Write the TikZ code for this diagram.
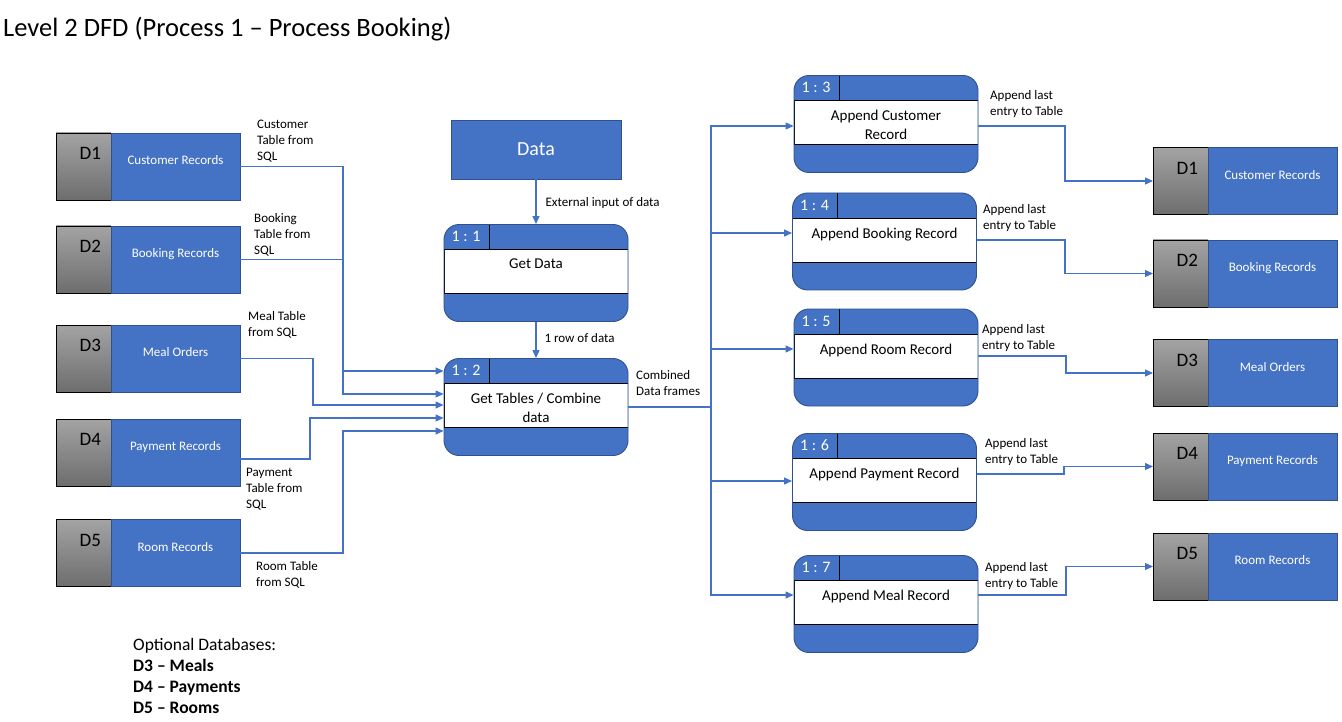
\documentclass[tikz,border=0pt]{standalone}
\usepackage{fontspec}
\setmainfont{Carlito}
\usetikzlibrary{positioning, arrows.meta}
\definecolor{dfdblue}{HTML}{4472C4}
\definecolor{dfdedge}{HTML}{2F528F}
\tikzset{
conn/.style={draw=dfdblue, line width=1.1pt, -{Triangle[length=8pt,width=7pt]}}, % data flow with arrow
flow/.style={draw=dfdblue, line width=1.1pt}, % data flow without arrow
flowlabel/.style={font=\fontsize{13}{16}\selectfont, align=left, inner sep=0pt, anchor=west},
storeid/.style={draw=black, top color=black!36, bottom color=black!57, outer sep=0pt,
  minimum width=55pt, minimum height=67pt, text width=35pt, align=right, inner xsep=10pt,
  inner ysep=0pt, text height=12.5pt, text depth=26pt, font=\fontsize{19}{19}\selectfont},
storename/.style={draw=dfdedge, fill=dfdblue, text=white, outer sep=0pt, minimum width=129pt,
  minimum height=67pt, inner ysep=0pt, text height=9pt, text depth=12.5pt, font=\fontsize{13}{16}\selectfont},
entity/.style={draw=dfdedge, fill=dfdblue, text=white, minimum width=170pt, minimum height=59pt,
  font=\fontsize{20}{20}\selectfont},
process/.style={draw=dfdedge, fill=dfdblue, line width=0.9pt, rounded corners=15pt,
  minimum width=184pt, minimum height=97pt,
  path picture={
    \draw[black, sharp corners, line width=0.9pt, fill=white]
      ([yshift=-25pt]path picture bounding box.north west) rectangle
      ([yshift=28pt]path picture bounding box.south east);
    \draw[black, sharp corners, line width=0.9pt]
      ([xshift=45pt]path picture bounding box.north west) -- ++(0pt,-25pt);
  }},
pnum/.style={text=white, inner sep=0pt, font=\fontsize{16}{16}\selectfont},
ptext/.style={anchor=north, align=center, inner sep=0pt, font=\fontsize{15}{19}\selectfont},
}
\begin{document}
\begin{tikzpicture}[x=1pt, y=-1pt]
\useasboundingbox[fill=white] (0,0) rectangle (1342,722);
\node[anchor=west, inner sep=0pt, font=\fontsize{26.5}{30}\selectfont] (title) at (3,29) {Level 2 DFD (Process 1 – Process Booking)};

% data stores on the left
\node[storeid] (l1) at (83.5,166.5) {D1};
\node[storename, right=0pt of l1] (l1n) {Customer Records};
\node[storeid] (l2) at (83.5,259.5) {D2};
\node[storename, right=0pt of l2] (l2n) {Booking Records};
\node[storeid] (l3) at (83.5,358.5) {D3};
\node[storename, right=0pt of l3] (l3n) {Meal Orders};
\node[storeid] (l4) at (83.5,452.5) {D4};
\node[storename, right=0pt of l4] (l4n) {Payment Records};
\node[storeid] (l5) at (83.5,553) {D5};
\node[storename, right=0pt of l5] (l5n) {Room Records};

% external entity and processes
\node[entity] (data) at (536,149.5) {Data};
\node[process] (p11) at (536,273) {};
\node[pnum] at ([xshift=22.5pt,yshift=-12.5pt]p11.north west) {1 : 1};
\node[ptext] at ([yshift=-35pt]p11.north) {Get Data};
\node[process] (p12) at (536,407) {};
\node[pnum] at ([xshift=22.5pt,yshift=-12.5pt]p12.north west) {1 : 2};
\node[ptext] at ([yshift=-35pt]p12.north) {Get Tables / Combine\\data};
\node[process] (p13) at (886,124) {};
\node[pnum] at ([xshift=22.5pt,yshift=-12.5pt]p13.north west) {1 : 3};
\node[ptext] at ([yshift=-35pt]p13.north) {Append Customer\\Record};
\node[process] (p14) at (884.5,241.5) {};
\node[pnum] at ([xshift=22.5pt,yshift=-12.5pt]p14.north west) {1 : 4};
\node[ptext] at ([yshift=-35pt]p14.north) {Append Booking Record};
\node[process] (p15) at (886,357.5) {};
\node[pnum] at ([xshift=22.5pt,yshift=-12.5pt]p15.north west) {1 : 5};
\node[ptext] at ([yshift=-35pt]p15.north) {Append Room Record};
\node[process] (p16) at (884.5,482) {};
\node[pnum] at ([xshift=22.5pt,yshift=-12.5pt]p16.north west) {1 : 6};
\node[ptext] at ([yshift=-35pt]p16.north) {Append Payment Record};
\node[process] (p17) at (886,604) {};
\node[pnum] at ([xshift=22.5pt,yshift=-12.5pt]p17.north west) {1 : 7};
\node[ptext] at ([yshift=-35pt]p17.north) {Append Meal Record};

% data stores on the right
\node[storeid] (r1) at (1180.5,181) {D1};
\node[storename, right=0pt of r1] (r1n) {Customer Records};
\node[storeid] (r2) at (1180.5,273.5) {D2};
\node[storename, right=0pt of r2] (r2n) {Booking Records};
\node[storeid] (r3) at (1180.5,373) {D3};
\node[storename, right=0pt of r3] (r3n) {Meal Orders};
\node[storeid] (r4) at (1180.5,466.5) {D4};
\node[storename, right=0pt of r4] (r4n) {Payment Records};
\node[storeid] (r5) at (1180.5,566.5) {D5};
\node[storename, right=0pt of r5] (r5n) {Room Records};

% flows into process 1:2
\draw[conn] (data) -- node[flowlabel, right=9pt, yshift=-1pt] {External input of data} (p11);
\draw[conn] (p11) -- node[flowlabel, right=8pt, yshift=2pt] {1 row of data} (p12);
\draw[conn] (l1n.east) -| (343,371) -- (p12.west |- 0,371);
\draw[conn] (l2n.east) -| (343,394) -- (p12.west |- 0,394);
\draw[conn] (l3n.east) -| (313,405) -- (p12.west |- 0,405);
\draw[conn] ([yshift=-6.5pt]l4n.east) -| (310,418) -- (p12.west |- 0,418);
\draw[conn] (l5n.east) -| (343,431) -- (p12.west |- 0,431);
\node[flowlabel] (lab1) at (257,141) {Customer\\Table from\\SQL};
\node[flowlabel] (lab2) at (254,235) {Booking\\Table from\\SQL};
\node[flowlabel] (lab3) at (248,325) {Meal Table\\from SQL};
\node[flowlabel] (lab4) at (246,489) {Payment\\Table from\\SQL};
\node[flowlabel] (lab5) at (256,575) {Room Table\\from SQL};

% flows out of process 1:2
\coordinate (split) at (711,407);
\draw[flow] (p12) -- (split);
\draw[conn] (split) |- (p13.west |- 0,126);
\draw[conn] (split) |- (p14.west |- 0,233);
\draw[conn] (split) |- (p15.west |- 0,349);
\draw[conn] (split) |- (p16.west |- 0,481);
\draw[conn] (split) |- (p17.west |- 0,595);
\node[flowlabel] (lab6) at (636,383) {Combined\\Data frames};

% flows into the data stores
\draw[conn] (p13.east |- 0,126) -| (1065,181) -- (r1.west);
\draw[conn] (p14.east |- 0,240) -| (1065,273.5) -- (r2.west);
\draw[conn] (p15.east |- 0,356) -| (1066,373) -- (r3.west);
\draw[conn] (p16.east |- 0,474) -| (1064,466.5) -- (r4.west);
\draw[conn] (p17.east |- 0,595) -| (1066,566.5) -- (r5.west);
\node[flowlabel] (lab7) at (990,104) {Append last\\entry to Table};
\node[flowlabel] (lab8) at (983,218) {Append last\\entry to Table};
\node[flowlabel] (lab9) at (982,338) {Append last\\entry to Table};
\node[flowlabel] (lab10) at (985,452) {Append last\\entry to Table};
\node[flowlabel] (lab11) at (985,576) {Append last\\entry to Table};

\node[anchor=west, align=left, inner sep=0pt, font=\fontsize{17.5}{21}\selectfont] (notes) at (133,675.5)
  {Optional Databases:\\\textbf{D3 – Meals}\\\textbf{D4 – Payments}\\\textbf{D5 – Rooms}};
\end{tikzpicture}
\end{document}
